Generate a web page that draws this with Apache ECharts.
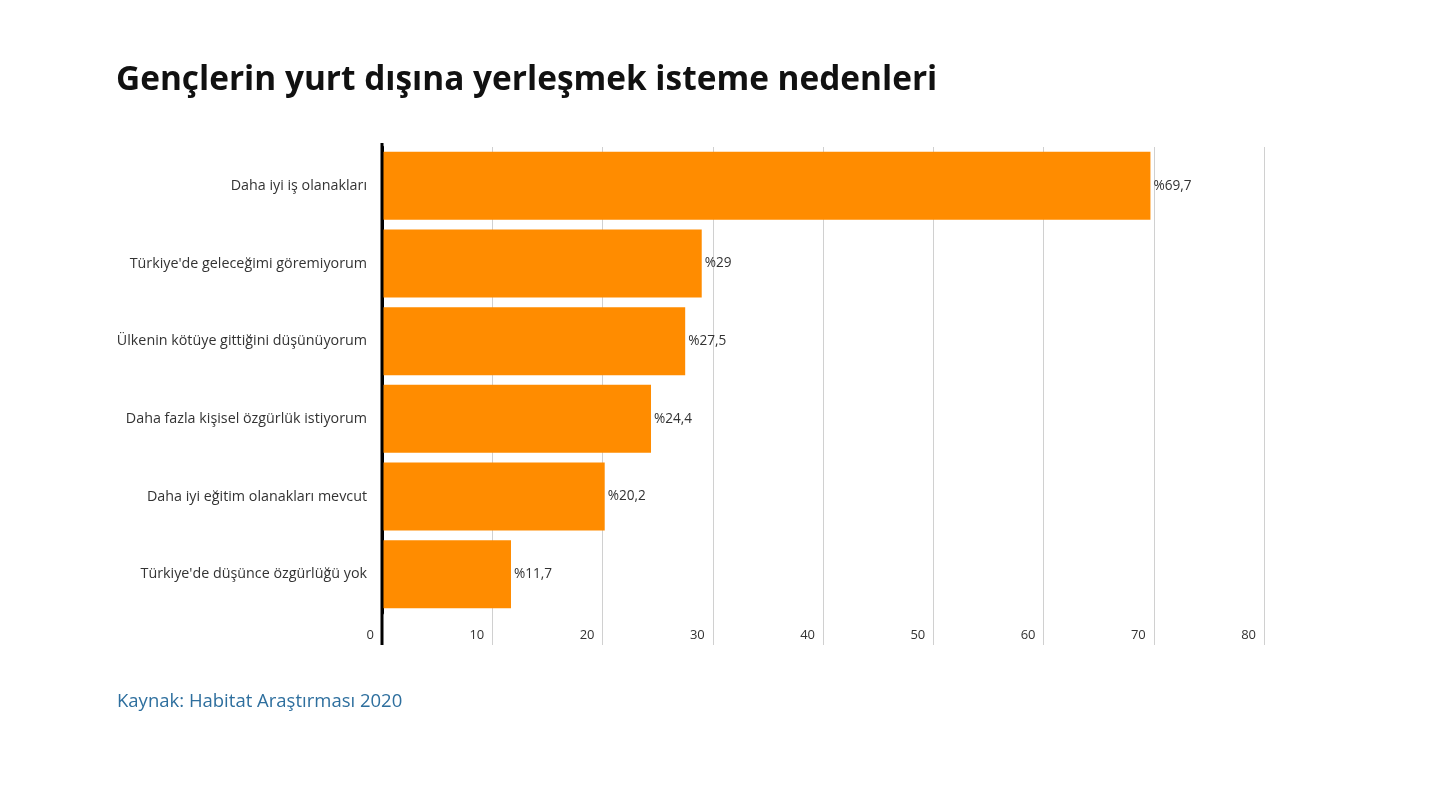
<!DOCTYPE html>
<html>
<head>
<meta charset="UTF-8">
<title>Gençlerin yurt dışına yerleşmek isteme nedenleri</title>
<script src="https://cdn.jsdelivr.net/npm/echarts@6/dist/echarts.min.js"></script>
<style>
  html, body { margin: 0; padding: 0; background: #fff; }
  #main { width: 1440px; height: 810px; }
</style>
</head>
<body>
<div id="main"></div>
<script>
    // kategoriler (yukaridan asagiya)
    var reasons = [
        'Daha iyi iş olanakları',
        "Türkiye'de geleceğimi göremiyorum",
        'Ülkenin kötüye gittiğini düşünüyorum',
        'Daha fazla kişisel özgürlük istiyorum',
        'Daha iyi eğitim olanakları mevcut',
        "Türkiye'de düşünce özgürlüğü yok"
    ];
    var shares = [69.7, 29, 27.5, 24.4, 20.2, 11.7];
    var xTicks = [0, 10, 20, 30, 40, 50, 60, 70, 80];

    var chart = echarts.init(document.getElementById('main'));
    var font = '"Open Sans", "Noto Sans", sans-serif';

    chart.setOption({
        animation: false,
        textStyle: {fontFamily: font},
        title: [
            {
                text: 'Gençlerin yurt dışına yerleşmek isteme nedenleri',
                left: 111, top: 59,
                textStyle: {fontSize: 33.4, fontWeight: 'bold', color: '#111', fontFamily: font}
            },
            {
                text: 'Kaynak: Habitat Araştırması 2020',
                left: 112, top: 687,
                textStyle: {fontSize: 18.5, fontWeight: 'normal', color: '#2e6f9e', fontFamily: font}
            }
        ],
        grid: {left: 382, right: 176, top: 147, bottom: 197},
        xAxis: {
            type: 'value',
            min: 0, max: 80, interval: 10,
            axisLine: {show: false},
            axisTick: {show: true, length: 32, lineStyle: {color: '#d0d0d0', width: 1}},
            splitLine: {show: true, lineStyle: {color: '#d0d0d0', width: 1}},
            axisLabel: {
                margin: 22, verticalAlign: 'middle', align: 'right',
                padding: [0, 8, 0, 0],
                fontSize: 13, color: '#333',
                formatter: function (v) { return xTicks.indexOf(v) >= 0 ? String(v) : ''; }
            }
        },
        yAxis: {
            type: 'category',
            inverse: true,
            data: reasons,
            axisLine: {show: true, lineStyle: {color: '#000', width: 3}},
            axisTick: {show: false},
            axisLabel: {margin: 15, fontSize: 14.3, color: '#333'}
        },
        series: [{
            type: 'bar',
            data: shares,
            barWidth: 68,
            itemStyle: {color: '#ff8c00'},
            label: {
                show: true, position: 'right', distance: 3,
                fontSize: 13.6, color: '#333',
                formatter: function (p) { return '%' + String(p.value).replace('.', ','); }
            }
        }]
    });

    // siyah eksen cizgisini tick etiketlerine kadar uzat
    var x0 = chart.convertToPixel({xAxisIndex: 0}, 0);
    chart.setOption({
        graphic: [{
            type: 'line',
            shape: {x1: x0, y1: 143, x2: x0, y2: 645},
            style: {stroke: '#000', lineWidth: 3},
            z: 100
        }]
    });
</script>
</body>
</html>
